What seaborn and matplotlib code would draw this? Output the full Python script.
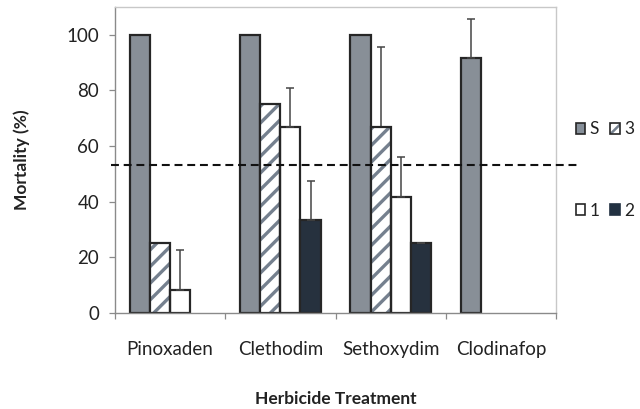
import matplotlib
matplotlib.use("Agg")
import matplotlib.pyplot as plt
import seaborn as sns
import pandas as pd
from matplotlib.patches import Rectangle, Patch
from matplotlib.legend_handler import HandlerTuple

herbicides = ["Pinoxaden", "Clethodim", "Sethoxydim", "Clodinafop"]
populations = ["S", "3", "1", "2"]
# one record per drawn bar: herbicide, population, mortality, upper error
rec_herb = ["Pinoxaden", "Pinoxaden", "Pinoxaden",
            "Clethodim", "Clethodim", "Clethodim", "Clethodim",
            "Sethoxydim", "Sethoxydim", "Sethoxydim", "Sethoxydim",
            "Clodinafop"]
rec_pop = ["S", "3", "1",
           "S", "3", "1", "2",
           "S", "3", "1", "2",
           "S"]
mortality = [100, 25, 8.3,
             100, 75, 66.7, 33.3,
             100, 66.7, 41.7, 25,
             91.7]
err_upper = [None, None, 14.4,
             None, None, 14.1, 14.2,
             None, 29.0, 14.2, 0.0,
             14.1]
threshold = 53.2

colors = {"S": "#868f99", "3": "#ffffff", "1": "#ffffff", "2": "#223142"}
hatch_color = "#75808e"
edge_dark = "#262626"

df = pd.DataFrame({"Herbicide": rec_herb, "Pop": rec_pop,
                   "Mortality": mortality, "Err": err_upper})

sns.set_theme(style="white")
plt.rcParams["font.family"] = ["Lato", "DejaVu Sans"]
plt.rcParams["hatch.linewidth"] = 2.4

fig = plt.figure(figsize=(6.4, 4.09), dpi=100)
ax = fig.add_axes([115/640, 1-313/409, (556-115)/640, (313-7)/409])

sns.barplot(data=df, x="Herbicide", y="Mortality", hue="Pop",
            order=herbicides, hue_order=populations, palette=colors,
            width=0.73, errorbar=None, edgecolor=edge_dark, linewidth=1.6,
            legend=False, ax=ax)

for cont, pop in zip(ax.containers, populations):
    for bar in cont:
        xc = bar.get_x() + bar.get_width()/2
        herb = herbicides[int(round(xc))]
        row = df[(df.Herbicide == herb) & (df.Pop == pop)]
        if row.empty:
            continue
        if pop == "3":
            bar.set_hatch("//")
            bar.set_edgecolor(hatch_color)
            bar.set_linewidth(0)
            ax.add_patch(Rectangle(bar.get_xy(), bar.get_width(), bar.get_height(),
                                   fill=False, edgecolor=edge_dark, linewidth=1.6,
                                   zorder=bar.get_zorder()+0.1))
        e = row.Err.values[0]
        if pd.notna(e):
            ax.errorbar([xc], [bar.get_height()], yerr=[[0], [e]], fmt="none",
                        ecolor="#454545", elinewidth=1.1, capsize=2.6, capthick=1.1, zorder=1)

ax.axhline(threshold, xmin=-0.008, xmax=1.054, color="#111111", lw=1.5,
           dashes=(3.8, 2.3), clip_on=False, zorder=5)

ax.set_ylim(0, 110)
ax.set_xlim(-0.5, 3.5)
ax.set_yticks([0, 20, 40, 60, 80, 100])
ax.set_xticks([-0.5, 0.5, 1.5, 2.5, 3.5])
ax.set_xticklabels([])
ax.set_xticks(range(len(herbicides)), minor=True)
ax.set_xticklabels(herbicides, minor=True)
ax.tick_params(axis="x", which="major", direction="out", length=4.5, width=0.9, color="#8a8a8a", bottom=True)
ax.tick_params(axis="x", which="minor", length=0, labelsize=13.5, colors="#222222", pad=20, bottom=True)
ax.tick_params(axis="y", direction="out", length=4.5, width=0.9, color="#8a8a8a", left=True,
               labelsize=13.5, labelcolor="#222222", pad=7)

for s in ["left", "bottom"]:
    ax.spines[s].set_color("#8a8a8a")
    ax.spines[s].set_linewidth(1.0)
for s in ["top", "right"]:
    ax.spines[s].set_color("#c8c8c8")
    ax.spines[s].set_linewidth(1.0)

ax.set_xlabel("Herbicide Treatment", fontsize=12.5, fontweight="bold", color="#222222", labelpad=24)
ax.set_ylabel("Mortality (%)", fontsize=12.5, fontweight="bold", color="#222222", labelpad=26)

plt.rcParams["hatch.linewidth"] = 1.8
h_s = Patch(facecolor=colors["S"], edgecolor=edge_dark, linewidth=1.2)
h_1 = Patch(facecolor="white", edgecolor=edge_dark, linewidth=1.2)
h_3 = (Patch(facecolor="white", edgecolor=hatch_color, hatch="///", linewidth=0),
       Patch(fill=False, edgecolor=edge_dark, linewidth=1.2))
h_2 = Patch(facecolor=colors["2"], edgecolor=colors["2"], linewidth=1.2)
handles = [h_s, h_1, h_3, h_2]
labels = ["S", "1", "3", "2"]
leg = fig.legend(handles, labels, ncol=2, loc="center left", bbox_to_anchor=(567/640, 1-170/409),
                 frameon=False, fontsize=12.5, handlelength=0.55, handleheight=0.55,
                 handletextpad=0.25, columnspacing=0.6, labelspacing=3.75, borderpad=0,
                 handler_map={tuple: HandlerTuple(ndivide=1)})
for t in leg.get_texts():
    t.set_color("#222222")

fig.savefig("out.png", dpi=100)
